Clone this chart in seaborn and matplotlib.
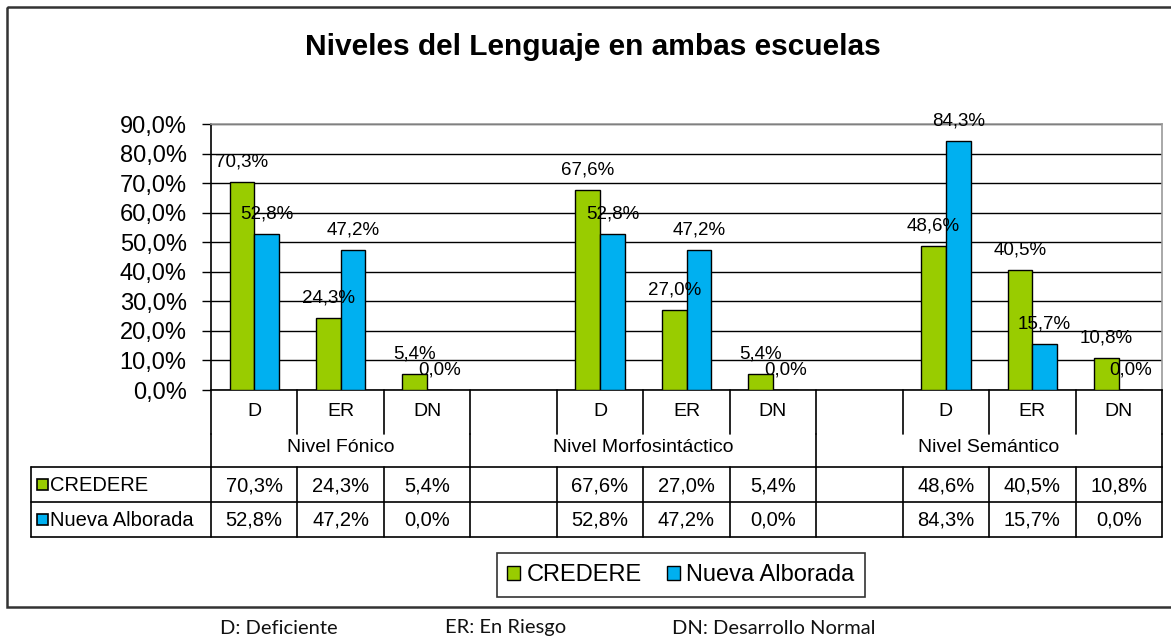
import pandas as pd
import numpy as np
import matplotlib
matplotlib.use("Agg")
import matplotlib.pyplot as plt
import seaborn as sns
from matplotlib.patches import Patch, Rectangle
from matplotlib.ticker import FuncFormatter

# Data
niveles = ["Nivel Fónico", "Nivel Morfosintáctico", "Nivel Semántico"]
subniveles = ["D", "ER", "DN"]
escuelas = ["CREDERE", "Nueva Alborada"]
credere = [70.3, 24.3, 5.4, 67.6, 27.0, 5.4, 48.6, 40.5, 10.8]
nueva_alborada = [52.8, 47.2, 0.0, 52.8, 47.2, 0.0, 84.3, 15.7, 0.0]
leyenda_pie = ["D: Deficiente", "ER: En Riesgo", "DN: Desarrollo Normal"]

colores = {"CREDERE": "#99CC00", "Nueva Alborada": "#00B0F0"}

# Build long table; blank slots separate the three levels (like the Excel chart)
claves = [f"{n}|{s}" for n in niveles for s in subniveles]
df = pd.DataFrame({
    "cat": claves * 2,
    "escuela": [escuelas[0]] * 9 + [escuelas[1]] * 9,
    "valor": credere + nueva_alborada,
})
order = []
for i, n in enumerate(niveles):
    if i > 0:
        order.append(f"hueco{i}")
    order += [f"{n}|{s}" for s in subniveles]

sns.set_style("white")
plt.rcParams["font.family"] = ["Liberation Sans", "DejaVu Sans"]
plt.rcParams["text.color"] = "black"
plt.rcParams["ytick.color"] = "black"
plt.rcParams["xtick.color"] = "black"

W, H = 1171, 639
fig = plt.figure(figsize=(W / 100, H / 100), dpi=100)
fig.patch.set_facecolor("white")

# Plot area in pixel terms: x 211..1162, y 124..390
ax = fig.add_axes([211 / W, (H - 390) / H, 951 / W, 266 / H])
sns.barplot(data=df, x="cat", y="valor", hue="escuela", order=order,
            hue_order=escuelas, palette=colores, saturation=1,
            width=2 / 3.5, gap=0, edgecolor="black", linewidth=1,
            legend=False, ax=ax, zorder=3)
ax.set_xlim(-0.5, len(order) - 0.5)
ax.set_ylim(0, 90)
ax.set_yticks(np.arange(0, 91, 10))
ax.yaxis.set_major_formatter(FuncFormatter(lambda v, p: f"{v:.1f}%".replace(".", ",")))
ax.tick_params(axis="y", labelsize=17, length=6.5, width=1, pad=11, color="black",
               labelcolor="black", left=True, direction="out")
ax.set_xticks([])
ax.set_xlabel("")
ax.set_ylabel("")
ax.yaxis.grid(True, color="black", linewidth=1, zorder=0)
ax.set_axisbelow(True)
for s in ["top", "right"]:
    ax.spines[s].set_color("#9a9a9a")
    ax.spines[s].set_linewidth(1.2)
for s in ["left", "bottom"]:
    ax.spines[s].set_color("black")
    ax.spines[s].set_linewidth(1.2)

# Data labels above each bar
for p in ax.patches:
    h = p.get_height()
    if np.isnan(h):
        continue
    ax.annotate(f"{h:.1f}%".replace(".", ","), (p.get_x() + p.get_width() / 2, h),
                xytext=(0, 14.4), textcoords="offset points", ha="center",
                va="center", fontsize=13.5, zorder=5, annotation_clip=False)

# Overlay in pixel coordinates for the Excel style data table
ov = fig.add_axes([0, 0, 1, 1])
ov.set_xlim(0, W)
ov.set_ylim(H, 0)
ov.axis("off")
fig.canvas.draw()


def px(xd):
    return ax.transData.transform((xd, 0))[0]


bordes = [px(i - 0.5) for i in range(len(order) + 1)]
centros = [px(i) for i in range(len(order))]
lw = 1.2
y_ax, y_tick, y_tab, y_mid, y_bot = 390, 434, 467, 502, 537
x_left = 31

# vertical boundaries
for i, xb in enumerate(bordes):
    grupo = i in (0, len(order)) or (i < len(order) and order[i].startswith("hueco"))
    ov.plot([xb, xb], [y_ax, y_tick], color="black", lw=lw)
    if grupo:
        ov.plot([xb, xb], [y_tick, y_tab], color="black", lw=lw)
    ov.plot([xb, xb], [y_tab, y_bot], color="black", lw=lw)
ov.plot([x_left, x_left], [y_tab, y_bot], color="black", lw=lw)
for yy in (y_tab, y_mid, y_bot):
    ov.plot([x_left, bordes[-1]], [yy, yy], color="black", lw=lw)

# category labels
for c, xc in zip(order, centros):
    if c.startswith("hueco"):
        continue
    ov.text(xc, 411, c.split("|")[1], ha="center", va="center", fontsize=14)
for n in niveles:
    idx = [i for i, c in enumerate(order) if c.startswith(n)]
    ini = idx[0] - (1 if idx[0] > 0 else 0)
    xc = (bordes[ini] + bordes[idx[-1] + 1]) / 2
    ov.text(xc, 448, n, ha="center", va="center", fontsize=14)

# table values
filas = {"CREDERE": credere, "Nueva Alborada": nueva_alborada}
for r, (esc, vals) in enumerate(filas.items()):
    yc = (y_tab + y_mid) / 2 if r == 0 else (y_mid + y_bot) / 2
    ov.add_patch(Rectangle((37, yc - 5.5), 11, 11, facecolor=colores[esc],
                           edgecolor="black", lw=1.2))
    ov.text(50, yc + 1, esc, ha="left", va="center", fontsize=14.5)
    k = 0
    for c, xc in zip(order, centros):
        if c.startswith("hueco"):
            continue
        ov.text(xc, yc + 1, f"{vals[k]:.1f}%".replace(".", ","), ha="center",
                va="center", fontsize=14.5)
        k += 1

# legend
handles = [Patch(facecolor=colores[e], edgecolor="black", label=e) for e in escuelas]
leg = fig.legend(handles=handles, loc="center", bbox_to_anchor=(681 / W, 1 - 575 / H),
                 ncol=2, frameon=True, fancybox=False, edgecolor="black",
                 fontsize=17, handlelength=0.55, handleheight=0.55,
                 handletextpad=0.25, columnspacing=1.1, borderpad=0.45,
                 borderaxespad=0)
leg.get_frame().set_linewidth(1.2)

# title
fig.text(593 / W, 1 - 47 / H, "Niveles del Lenguaje en ambas escuelas",
         ha="center", va="center", fontsize=21.5, fontweight="bold")

# outer chart border
ov.add_patch(Rectangle((7, 7), W + 20, 600, facecolor="none", edgecolor="#333333", lw=1.8))

# footnote
for txt, xx in zip(leyenda_pie, [220, 445, 672]):
    ov.text(xx, 628, txt, ha="left", va="center", fontsize=14.5,
            family=["Lato", "DejaVu Sans"], color="#111111")

fig.savefig("out.png", dpi=100)
